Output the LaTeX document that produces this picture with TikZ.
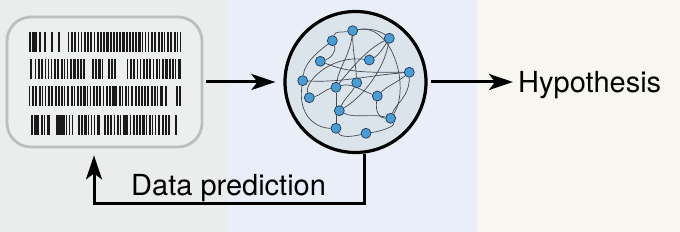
\documentclass[tikz,border=0pt]{standalone}
\usepackage{fontspec}
\setmainfont{TeX Gyre Heros}
\usetikzlibrary{arrows.meta,calc}
\definecolor{bgA}{HTML}{EBEDED}
\definecolor{bgB}{HTML}{E9EEF8}
\definecolor{bgC}{HTML}{F7F7EF}
\definecolor{boxline}{HTML}{BDBFBF}
\definecolor{boxfill}{HTML}{EDEFEF}
\definecolor{circfill}{HTML}{DCE4EB}
\definecolor{dotfill}{HTML}{4B9CD3}
\definecolor{dotline}{HTML}{1F3B57}
\definecolor{netline}{HTML}{454A50}
\definecolor{barcol}{HTML}{1A1A1A}
\pgfdeclarelayer{bg}
\pgfdeclarelayer{edges}
\pgfsetlayers{bg,edges,main}
\begin{document}
\begin{tikzpicture}[x=1pt,y=-1pt,
  flow/.style={line width=3pt,-{Stealth[length=24pt,width=16pt,inset=6pt]}},
  dot/.style={circle,fill=dotfill,draw=dotline,line width=0.7pt,minimum size=10pt,inner sep=0pt},
  net/.style={netline,line width=0.7pt},
  label/.style={inner sep=0pt,font=\fontsize{29}{34}\selectfont}]
\useasboundingbox (0,0) rectangle (680,232);
\begin{pgfonlayer}{bg}
\fill[bgA] (0,0) rectangle (228,232);
\fill[bgB] (228,0) rectangle (477,232);
\fill[bgC] (477,0) rectangle (680,232);
\node[draw=black,fill=circfill,line width=3.2pt,circle,minimum size=141pt,inner sep=0pt] (circ) at (355.5,82) {};
\end{pgfonlayer}
% data box
\node[draw=boxline,fill=boxfill,line width=2.8pt,rounded corners=24pt,minimum width=195pt,minimum height=130pt] (box) at (104.5,82) {};
% barcodes
\pgfmathsetseed{11}
\foreach \y/\xa/\xb in {32/29/40,32/68/180,59/35/84,59/92/103,59/108/115,59/127/179,86/29/162,86/176/179,115/31/50,115/56/72,115/78/100,115/104/170}{
  \pgfmathsetmacro\xs{\xa+3.2}
  \foreach \x in {\xa,\xs,...,\xb}{
    \pgfmathsetmacro\w{1.1+1.5*rnd}
    \fill[barcol] (\x,\y) rectangle ++(\w,20);
  }
}
\foreach \y/\x in {32/44,32/51,32/58,59/30,86/165,115/175}{
  \fill[barcol] (\x,\y) rectangle ++(1.8,20);
}
% network dots
\node[dot] (a) at (352.7,30.7) {};
\node[dot] (b) at (332.3,40.7) {};
\node[dot] (c) at (389.3,38.3) {};
\node[dot] (d) at (320.3,61.3) {};
\node[dot] (e) at (369.3,60) {};
\node[dot] (f) at (409.3,72.3) {};
\node[dot] (g) at (302.7,80.7) {};
\node[dot] (h) at (356.7,82.7) {};
\node[dot] (i) at (336,87.3) {};
\node[dot] (j) at (309.3,97.7) {};
\node[dot] (k) at (377.3,96) {};
\node[dot] (l) at (339.3,110.7) {};
\node[dot] (m) at (390.7,118.3) {};
\node[dot] (n) at (336,128.3) {};
\node[dot] (o) at (366,133.3) {};
\begin{pgfonlayer}{edges}
\draw[net] (b) .. controls +(3,-10) and +(-12,2) .. (a);
\draw[net] (b) .. controls +(5,12) and +(8,-2) .. (d);
\draw[net] (g) .. controls +(2,-20) and +(-10,8) .. (b);
\draw[net] (a) .. controls +(0,20) and +(-1,-20) .. (h);
\draw[net] (a) .. controls +(-3,25) and +(3,-20) .. (i);
\draw[net] (a) .. controls +(40,-8) and +(20,-30) .. (m);
\draw[net] (a) .. controls +(15,-3) and +(-10,-8) .. (c);
\draw[net] (c) .. controls +(-5,30) and +(25,-15) .. (l);
\draw[net] (c) .. controls +(-20,10) and +(20,-25) .. (i);
\draw[net] (d) .. controls +(30,12) and +(-40,0) .. (f);
\draw[net] (g) .. controls +(40,2) and +(-40,3) .. (f);
\draw[net] (e) .. controls +(-40,-5) and +(-5,-15) .. (j);
\draw[net] (j) .. controls +(10,-2) and +(-10,2) .. (i);
\draw[net] (i) .. controls +(15,-5) and +(-15,-5) .. (k);
\draw[net] (k) .. controls +(-2,15) and +(-12,0) .. (m);
\draw[net] (f) .. controls +(0,25) and +(5,-15) .. (m);
\draw[net] (f) .. controls +(-12,10) and +(10,-10) .. (k);
\draw[net] (n) .. controls +(5,10) and +(-12,3) .. (o);
\draw[net] (o) .. controls +(15,-2) and +(5,8) .. (m);
\draw[net] (n) -- (i);
\draw[net] (l) .. controls +(5,-12) and +(-5,10) .. (h);
\draw[net] (l) .. controls +(15,8) and +(-20,-5) .. (m);
\draw[net] (g) .. controls +(-5,35) and +(-20,0) .. (n);
\draw[net] (e) .. controls +(10,-5) and +(-5,8) .. (c);
\end{pgfonlayer}
% labels
\node[label,anchor=base west] (hyp) at (518,93) {Hypothesis};
\node[label,anchor=base west] (pred) at (131,196) {Data prediction};
% connectors
\coordinate (fb) at (94,204);
\draw[flow,shorten <=3pt,shorten >=8pt] (box.east) -- (circ.west);
\draw[flow,shorten <=3pt,shorten >=5pt] (circ.east) -- (circ.east -| hyp.west);
\draw[flow,shorten >=7pt] (circ.-83) |- (fb) -- (fb |- box.south);
\end{tikzpicture}
\end{document}
